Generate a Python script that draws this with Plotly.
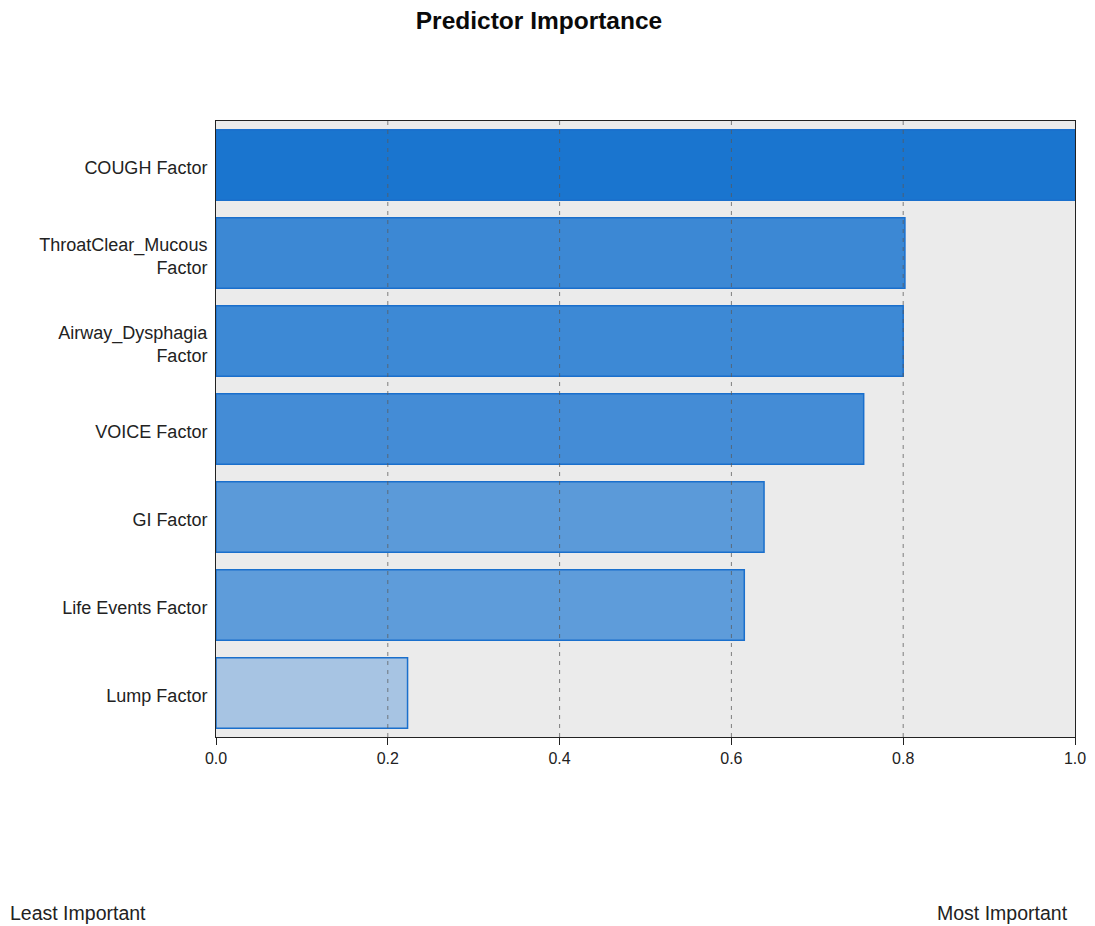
import plotly.graph_objects as go

# Predictor importance values (normalised, most important = 1.0)
predictors = [
    "COUGH Factor",
    "ThroatClear_Mucous<br>Factor",
    "Airway_Dysphagia<br>Factor",
    "VOICE Factor",
    "GI Factor",
    "Life Events Factor",
    "Lump Factor",
]
importance = [1.0, 0.802, 0.800, 0.754, 0.638, 0.615, 0.223]

# Fill shades grow darker with importance
bar_colors = ["#1a75cf", "#3c88d4", "#3d89d5", "#448cd6", "#5b9ad9", "#5e9cda", "#a7c4e3"]

x_ticks = [0.0, 0.2, 0.4, 0.6, 0.8, 1.0]
x_tick_text = ["0.0", "0.2", "0.4", "0.6", "0.8", "1.0"]

FONT = "Liberation Sans, Arial, sans-serif"

fig = go.Figure(
    go.Bar(
        x=importance,
        y=predictors,
        orientation="h",
        width=0.8,
        marker=dict(color=bar_colors, line=dict(color="#1a6fcc", width=1.5)),
        hoverinfo="x+y",
    )
)

# Dashed reference lines drawn on top of the bars
for t in x_ticks[1:-1]:
    fig.add_shape(
        type="line", xref="x", yref="paper", x0=t, x1=t, y0=0, y1=1,
        line=dict(color="rgba(90,90,90,0.75)", width=1, dash="4px,5px"),
        layer="above",
    )

fig.update_layout(
    width=1095,
    height=926,
    margin=dict(l=216, r=20, t=121, b=189, autoexpand=False),
    paper_bgcolor="white",
    plot_bgcolor="#ebebeb",
    showlegend=False,
    font=dict(family=FONT, color="#222"),
    title=dict(
        text="<b>Predictor Importance</b>",
        font=dict(size=24.5, family=FONT, color="#0a0a0a"),
        x=539 / 1095, xref="container", xanchor="center",
        y=1 - 20 / 926, yref="container", yanchor="middle",
    ),
    xaxis=dict(
        range=[0, 1.0],
        tickvals=x_ticks,
        ticktext=x_tick_text,
        showgrid=False,
        zeroline=False,
        automargin=False,
        showline=True, linecolor="#222", linewidth=1, mirror=True,
        ticks="outside", ticklen=7, tickcolor="#222",
        tickfont=dict(size=16, color="#222"),
    ),
    yaxis=dict(
        categoryorder="array",
        categoryarray=predictors,
        autorange="reversed",
        showgrid=False,
        zeroline=False,
        automargin=False,
        showline=True, linecolor="#222", linewidth=1, mirror=True,
        ticks="",
        ticklabelstandoff=4,
        ticklabelshift=-3,
        tickfont=dict(size=18, color="#222"),
    ),
    annotations=[
        dict(
            text="Least Important", xref="paper", yref="paper",
            x=(8 - 216) / 859, y=(737 - 913) / 616,
            xanchor="left", yanchor="middle", showarrow=False,
            font=dict(size=19.5, color="#222"),
        ),
        dict(
            text="Most Important", xref="paper", yref="paper",
            x=(1070 - 216) / 859, y=(737 - 913) / 616,
            xanchor="right", yanchor="middle", showarrow=False,
            font=dict(size=19.5, color="#222"),
        ),
    ],
)

fig.write_html("out.html")
